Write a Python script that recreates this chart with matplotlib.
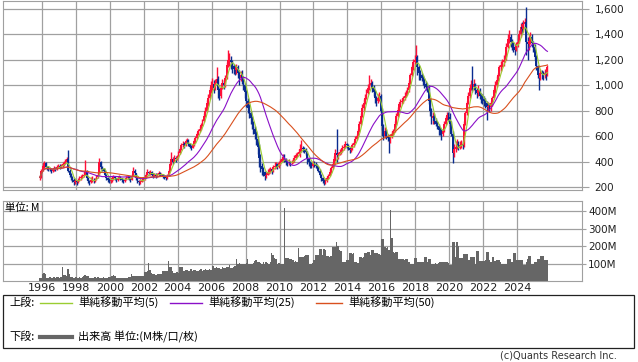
import numpy as np
import pandas as pd
import matplotlib
matplotlib.use("Agg")
import matplotlib.pyplot as plt
from matplotlib.lines import Line2D
from matplotlib.patches import Rectangle
from matplotlib.ticker import FuncFormatter

# 月足データ (1995年11月 ～ 2025年10月)
close = [
    280, 330,
    370, 390, 360, 350, 345, 340, 330, 340, 350, 345, 360, 370,
    360, 370, 380, 390, 400, 420, 330, 300, 280, 260, 240, 250,
    240, 260, 270, 280, 290, 300, 330, 270, 250, 240, 260, 260,
    250, 260, 280, 300, 400, 360, 340, 330, 300, 270, 260, 250,
    250, 270, 280, 270, 260, 270, 280, 270, 260, 250, 260, 270,
    280, 270, 260, 290, 330, 310, 270, 250, 240, 245, 255, 265,
    280, 300, 320, 310, 320, 300, 290, 300, 290, 300, 310, 300,
    300, 290, 280, 270, 290, 330, 380, 420, 400, 430, 420, 440,
    470, 500, 530, 540, 530, 560, 570, 540, 520, 510, 530, 560,
    590, 620, 640, 660, 690, 720, 760, 800, 860, 900, 960, 1000,
    1010, 980, 1020, 1050, 960, 920, 980, 1020, 1000, 1060, 1160, 1200,
    1200, 1180, 1150, 1130, 1120, 1140, 1100, 1060, 1080, 1050, 1000, 950,
    880, 820, 780, 740, 700, 660, 620, 580, 520, 430, 370, 340,
    320, 290, 300, 320, 330, 340, 330, 360, 370, 380, 360, 390,
    400, 420, 440, 420, 400, 390, 400, 390, 400, 410, 430, 450,
    460, 480, 500, 510, 500, 490, 480, 420, 400, 380, 370, 390,
    380, 370, 360, 330, 300, 270, 250, 240, 250, 270, 290, 320,
    350, 380, 420, 470, 450, 460, 480, 490, 510, 520, 540, 530,
    510, 490, 500, 530, 550, 580, 600, 640, 700, 760, 820, 860,
    900, 940, 980, 1000, 1020, 980, 950, 900, 880, 900, 920, 800,
    680, 600, 640, 600, 590, 560, 600, 620, 640, 700, 760, 810,
    850, 870, 880, 900, 920, 940, 960, 1020, 1080, 1140, 1180, 1200,
    1220, 1140, 1100, 1080, 1060, 1040, 1010, 990, 980, 880, 800, 740,
    760, 720, 700, 680, 650, 640, 620, 640, 700, 740, 770, 750,
    700, 620, 470, 500, 520, 540, 510, 530, 540, 530, 700, 780,
    860, 920, 980, 1000, 990, 1010, 960, 940, 960, 920, 900, 890,
    880, 860, 830, 840, 830, 860, 900, 960, 1000, 1040, 1080, 1140,
    1160, 1180, 1200, 1220, 1300, 1360, 1380, 1340, 1320, 1300, 1280, 1320,
    1340, 1400, 1460, 1440, 1480, 1500, 1340, 1320, 1350, 1380, 1330, 1300,
    1220, 1150, 1080, 1060, 1100, 1090, 1080, 1100, 1090, 1140,
]
high = [
    300, 345,
    385, 405, 395, 370, 365, 355, 350, 355, 365, 360, 375, 385,
    380, 385, 395, 405, 420, 440, 490, 340, 310, 290, 270, 265,
    260, 275, 285, 295, 305, 320, 414, 335, 280, 260, 280, 285,
    270, 275, 295, 320, 430, 410, 370, 350, 335, 305, 280, 270,
    265, 285, 300, 290, 275, 285, 295, 290, 275, 265, 275, 285,
    295, 290, 280, 305, 360, 345, 315, 280, 260, 260, 270, 280,
    295, 315, 340, 330, 338, 325, 310, 315, 310, 315, 325, 318,
    315, 308, 298, 290, 305, 345, 395, 475, 440, 450, 445, 455,
    485, 515, 550, 560, 555, 575, 590, 575, 550, 530, 545, 575,
    605, 635, 660, 680, 705, 735, 780, 830, 885, 930, 990, 1030,
    1060, 1040, 1050, 1140, 1070, 980, 1010, 1050, 1040, 1080, 1180, 1277,
    1250, 1230, 1200, 1170, 1160, 1170, 1160, 1120, 1110, 1120, 1070, 1020,
    960, 900, 850, 800, 760, 720, 680, 640, 600, 540, 460, 390,
    360, 330, 320, 340, 350, 360, 355, 375, 395, 400, 390, 405,
    420, 440, 460, 460, 430, 410, 420, 410, 415, 430, 450, 470,
    480, 500, 540, 570, 525, 515, 505, 485, 430, 410, 400, 405,
    405, 395, 385, 370, 340, 305, 280, 265, 270, 285, 305, 340,
    365, 400, 445, 500, 660, 480, 500, 505, 530, 540, 560, 550,
    540, 515, 520, 545, 565, 600, 620, 660, 720, 780, 850, 890,
    930, 970, 1010, 1080, 1050, 1030, 1000, 960, 920, 930, 950, 930,
    820, 700, 670, 660, 620, 610, 620, 645, 660, 720, 780, 830,
    870, 890, 900, 920, 945, 960, 985, 1040, 1100, 1160, 1210, 1240,
    1316, 1240, 1160, 1120, 1100, 1080, 1060, 1030, 1020, 1000, 900, 820,
    790, 780, 740, 720, 700, 670, 660, 660, 720, 760, 790, 790,
    780, 720, 640, 540, 560, 580, 560, 560, 570, 560, 720, 800,
    880, 950, 1010, 1040, 1150, 1050, 1020, 980, 1000, 980, 940, 930,
    920, 900, 880, 870, 860, 880, 920, 980, 1030, 1070, 1100, 1160,
    1190, 1210, 1240, 1250, 1330, 1400, 1433, 1400, 1360, 1340, 1320, 1340,
    1370, 1430, 1490, 1500, 1510, 1530, 1614, 1380, 1400, 1420, 1400, 1350,
    1320, 1240, 1160, 1100, 1130, 1120, 1110, 1130, 1120, 1160,
]
low = [
    255, 275,
    325, 355, 350, 335, 330, 325, 315, 320, 330, 330, 335, 350,
    345, 350, 360, 370, 380, 395, 320, 280, 260, 240, 218, 225,
    220, 235, 250, 260, 270, 280, 295, 255, 230, 220, 235, 245,
    235, 240, 255, 275, 295, 345, 325, 310, 285, 255, 245, 235,
    235, 245, 260, 255, 245, 250, 262, 255, 245, 235, 240, 255,
    262, 255, 240, 255, 285, 295, 260, 235, 220, 228, 238, 248,
    260, 275, 295, 295, 300, 285, 275, 282, 275, 282, 292, 285,
    285, 275, 262, 255, 265, 285, 325, 375, 385, 395, 400, 415,
    430, 465, 490, 515, 505, 525, 545, 525, 505, 490, 505, 525,
    550, 580, 610, 630, 650, 680, 715, 750, 790, 840, 890, 940,
    960, 940, 960, 1000, 900, 885, 900, 970, 970, 990, 1050, 1140,
    1150, 1130, 1100, 1090, 1080, 1090, 1060, 1000, 1030, 1010, 960, 900,
    830, 780, 740, 700, 660, 620, 580, 530, 460, 360, 320, 300,
    290, 257, 270, 295, 305, 315, 305, 320, 345, 350, 340, 350,
    375, 395, 410, 400, 375, 370, 375, 370, 380, 390, 400, 425,
    440, 455, 440, 480, 475, 470, 455, 380, 370, 355, 350, 360,
    360, 350, 340, 320, 285, 250, 230, 218, 228, 245, 265, 285,
    315, 345, 375, 410, 400, 425, 450, 465, 480, 495, 510, 505,
    490, 470, 475, 495, 520, 545, 570, 595, 630, 690, 750, 800,
    850, 890, 930, 960, 980, 950, 920, 860, 840, 860, 880, 780,
    650, 570, 590, 580, 560, 470, 550, 590, 610, 630, 690, 750,
    800, 830, 850, 865, 885, 905, 925, 950, 1010, 1070, 1120, 1150,
    1170, 1080, 1040, 1040, 1030, 1000, 980, 960, 950, 850, 760, 700,
    700, 700, 680, 660, 610, 610, 570, 600, 630, 690, 730, 720,
    680, 600, 390, 440, 480, 500, 490, 500, 510, 500, 520, 690,
    770, 850, 900, 960, 950, 960, 930, 900, 920, 890, 860, 850,
    840, 820, 727, 800, 790, 800, 840, 890, 940, 990, 1030, 1070,
    1110, 1140, 1150, 1180, 1200, 1290, 1330, 1300, 1280, 1260, 1240, 1270,
    1300, 1330, 1380, 1400, 1420, 1440, 1240, 1200, 1280, 1320, 1300, 1260,
    1200, 1120, 1060, 960, 1040, 1050, 1040, 1060, 1040, 1070,
]
# 出来高 (百万)
volume = [
    15, 20,
    40, 44, 40, 20, 18, 22, 20, 18, 25, 20, 22, 24,
    20, 25, 78, 35, 35, 30, 67, 40, 22, 22, 20, 22,
    22, 20, 22, 20, 24, 30, 32, 28, 30, 20, 18, 20,
    18, 22, 20, 25, 20, 18, 20, 22, 18, 15, 20, 22,
    22, 30, 32, 28, 20, 19, 18, 20, 19, 18, 20, 19,
    20, 22, 25, 40, 30, 28, 29, 30, 28, 29, 27, 28,
    54, 50, 60, 105, 63, 45, 38, 38, 36, 40, 38, 40,
    40, 57, 55, 58, 60, 117, 82, 82, 60, 44, 44, 50,
    45, 82, 82, 80, 60, 62, 65, 58, 55, 70, 60, 65,
    62, 58, 60, 65, 68, 60, 65, 70, 62, 65, 68, 62,
    86, 86, 75, 78, 72, 75, 70, 78, 72, 75, 80, 78,
    92, 73, 73, 80, 85, 125, 100, 105, 95, 100, 98, 100,
    105, 126, 100, 95, 100, 105, 115, 118, 110, 110, 105, 100,
    108, 100, 110, 105, 100, 110, 159, 150, 130, 128, 100, 105,
    100, 100, 98, 421, 134, 134, 130, 125, 125, 120, 110, 115,
    110, 190, 140, 140, 140, 145, 150, 150, 150, 100, 100, 105,
    120, 150, 150, 150, 182, 182, 150, 182, 180, 145, 145, 140,
    145, 197, 195, 197, 222, 200, 178, 170, 110, 110, 110, 120,
    120, 160, 160, 155, 160, 110, 110, 105, 140, 140, 135, 140,
    160, 160, 168, 168, 150, 178, 178, 160, 160, 160, 155, 150,
    240, 240, 193, 190, 193, 180, 406, 249, 165, 160, 165, 165,
    125, 125, 125, 125, 120, 125, 125, 110, 100, 100, 100, 135,
    135, 110, 110, 110, 110, 110, 138, 138, 110, 125, 125, 100,
    100, 98, 102, 100, 105, 110, 112, 110, 108, 110, 112, 105,
    92, 92, 226, 226, 140, 222, 200, 130, 130, 130, 153, 153,
    153, 120, 120, 136, 136, 136, 100, 174, 174, 115, 115, 115,
    115, 120, 165, 165, 120, 110, 140, 140, 115, 120, 120, 120,
    110, 100, 100, 100, 100, 125, 125, 125, 110, 163, 163, 120,
    120, 120, 120, 120, 92, 92, 110, 125, 145, 145, 100, 100,
    110, 110, 125, 125, 145, 145, 145, 120, 120, 120,
]
first_open = 270
year_ticks = list(range(1996, 2025, 2))
price_ticks = [200, 400, 600, 800, 1000, 1200, 1400, 1600]
vol_ticks = [100, 200, 300, 400]

W, H = 638, 362
UP = "#FF1038"
DOWN = "#0A2C90"
GRID = "#A0A0A0"
C5, C25, C50 = "#9ACD32", "#8A10C8", "#D9501E"

dates = pd.date_range("1995-11-01", periods=len(close), freq="MS")
t = dates.year + (dates.month - 0.5) / 12.0
c = pd.Series(close, dtype=float)
o = pd.Series([first_open] + close[:-1], dtype=float)
hi = np.maximum(np.array(high, float), np.maximum(o, c))
lo = np.minimum(np.array(low, float), np.minimum(o, c))
ma5 = c.rolling(5, min_periods=1).mean()
ma25 = c.rolling(25, min_periods=1).mean()
ma50 = c.rolling(50, min_periods=1).mean()


def fx(x):
    return x / W


def fy(y):
    return 1 - y / H


fig = plt.figure(figsize=(W / 100, H / 100), dpi=100)
ax = fig.add_axes([fx(3), fy(190), (582 - 3) / W, 189 / H])
axv = fig.add_axes([fx(3), fy(281), (582 - 3) / W, 80 / H])

xlim = (1993.70, 2027.83)

# 上段: ローソク足
up = (c >= o).values
cols = np.where(up, UP, DOWN)
ax.vlines(t, lo, hi, colors=cols, lw=1.0, zorder=3)
body_h = np.maximum(np.abs(c - o).values, 6)
ax.bar(t, body_h, bottom=np.minimum(o, c).values, width=0.11, color=cols,
       lw=0, zorder=3)
ax.plot(t, ma5, color=C5, lw=0.8, zorder=4)
ax.plot(t, ma25, color=C25, lw=0.8, zorder=4)
ax.plot(t, ma50, color=C50, lw=0.8, zorder=4)

ax.set_xlim(*xlim)
ax.set_ylim(179, 1661)
ax.set_xticks(year_ticks)
ax.set_yticks(price_ticks)
ax.yaxis.set_major_formatter(FuncFormatter(lambda v, p: f"{int(v):,}"))
ax.tick_params(axis="y", left=False, labelleft=False, right=True, labelright=True,
               length=5, color=GRID, labelsize=7.5, pad=4, labelcolor="#222222")
ax.tick_params(axis="x", bottom=False, labelbottom=False)
ax.grid(True, color=GRID, lw=0.9)
ax.set_axisbelow(True)
for s in ax.spines.values():
    s.set_color(GRID)

# 下段: 出来高
axv.bar(t, volume, width=1 / 12, color="#666666", lw=0, zorder=3)
axv.set_xlim(*xlim)
axv.set_ylim(0, 460)
axv.set_xticks(year_ticks)
axv.set_xticklabels([str(y) for y in year_ticks])
axv.set_yticks(vol_ticks)
axv.set_yticklabels([f"{v}M" for v in vol_ticks])
axv.tick_params(axis="y", left=False, labelleft=False, right=True, labelright=True,
                length=3, color=GRID, labelsize=7.5, pad=1.5, labelcolor="#222222")
axv.tick_params(axis="x", length=0, labelsize=8, pad=1.5, labelcolor="#222222")
axv.grid(True, color=GRID, lw=0.9)
axv.set_axisbelow(True)
for s in axv.spines.values():
    s.set_color(GRID)
jp = ["Noto Sans CJK JP", "DejaVu Sans"]
axv.text(0.004, 0.97, "単位: M", transform=axv.transAxes, ha="left", va="top",
         fontsize=7.5, family=jp, zorder=5)

# 凡例
fig.add_artist(Rectangle((fx(3), fy(348)), (634 - 3) / W, (348 - 295) / H,
                         transform=fig.transFigure, fill=False, ec="#222222", lw=0.9))
fig.text(fx(9), fy(302.5), "上段:", fontsize=8, family=jp, va="center")
fig.text(fx(9), fy(337), "下段:", fontsize=8, family=jp, va="center")
items = [(40, 72, C5, "単純移動平均(5)"),
         (170, 202, C25, "単純移動平均(25)"),
         (316, 342, C50, "単純移動平均(50)")]
for x0, x1, col, lab in items:
    fig.add_artist(Line2D([fx(x0), fx(x1)], [fy(302.5), fy(302.5)], color=col, lw=1,
                          transform=fig.transFigure))
    fig.text(fx(x1 + 6), fy(302.5), lab, fontsize=8, family=jp, va="center")
fig.add_artist(Line2D([fx(40), fx(72)], [fy(337), fy(337)], color="#666666", lw=3,
                      transform=fig.transFigure))
fig.text(fx(78), fy(337), "出来高 単位:(M株/口/枚)", fontsize=8, family=jp, va="center")

fig.text(fx(617), fy(356), "(c)Quants Research Inc.", fontsize=7, ha="right",
         va="center", color="#333333")

fig.savefig("out.png", dpi=100)
